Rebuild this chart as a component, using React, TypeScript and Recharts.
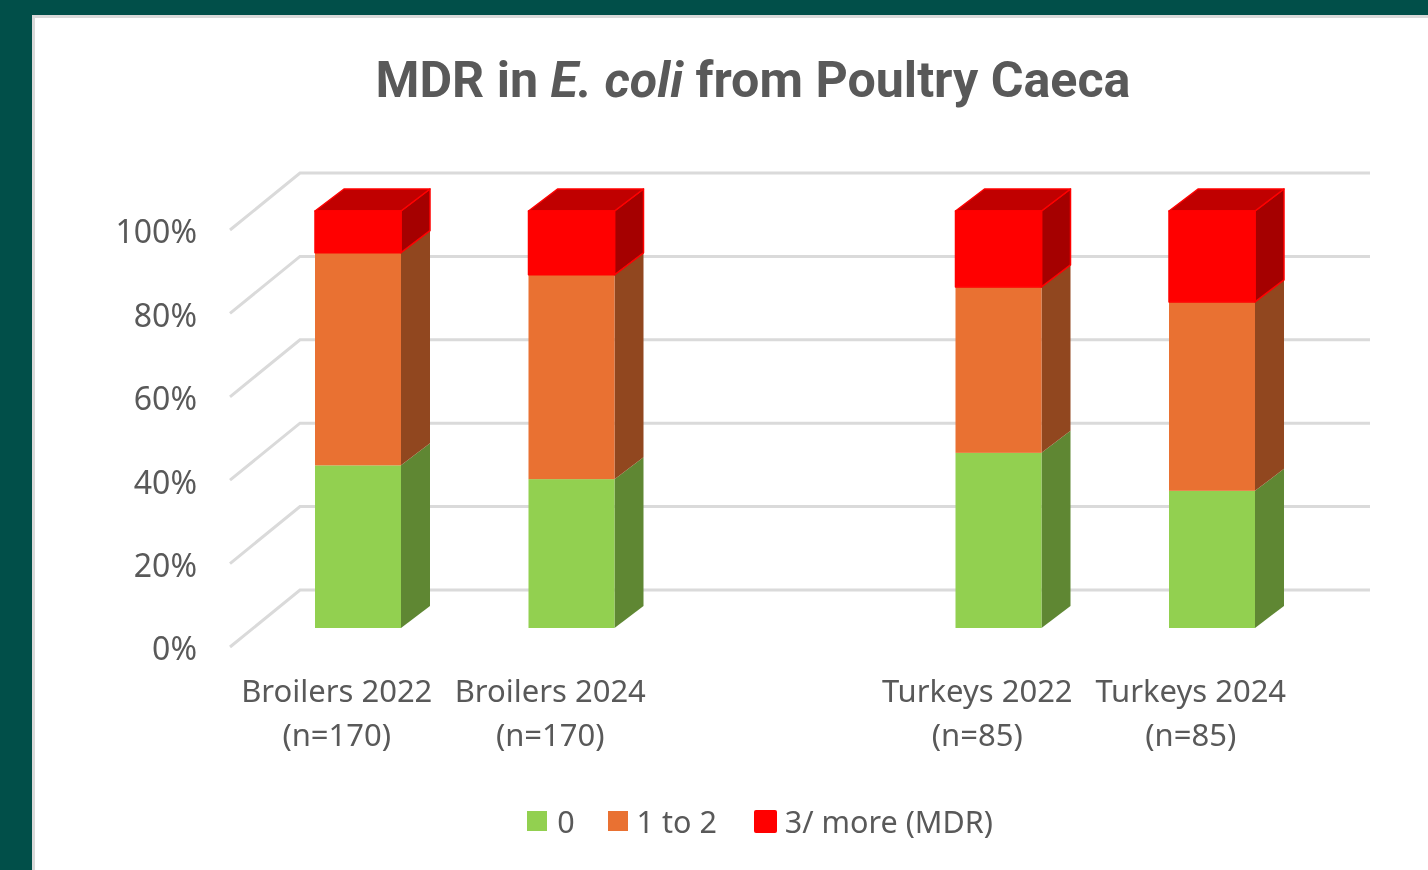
import { BarChart, Bar, XAxis, YAxis, CartesianGrid, Legend } from "recharts"

const categories = ["Broilers 2022", "Broilers 2024", "", "Turkeys 2022", "Turkeys 2024"]
const sampleSizes = ["(n=170)", "(n=170)", "", "(n=85)", "(n=85)"]
const noneValues = [39, 35.7, null, 42, 32.9]
const oneToTwoValues = [51, 49, null, 39.8, 45.3]
const mdrValues = [10, 15.3, null, 18.2, 21.8]
const yTicks = [0, 20, 40, 60, 80, 100]

const data = categories.map((name, i) => ({
  name,
  n: sampleSizes[i],
  none: noneValues[i],
  oneToTwo: oneToTwoValues[i],
  mdr: mdrValues[i],
}))

const FONT = "'Noto Sans', sans-serif"
const TEXT = "#595959"
const GRID = "#DADADA"

// fake 3D: wall depth and where the bars sit inside it
const WALL_DX = 70
const WALL_DY = -57
const BAR_SHIFT_X = 21
const BAR_SHIFT_Y = -19
const BAR_DX = 29
const BAR_DY = -22

const gridLine = (props: any) => {
  const { x1, y1, x2, key } = props
  const backY = y1 + WALL_DY
  return (
    <polyline
      key={key}
      points={`${x1},${y1} ${x1 + WALL_DX},${backY} ${x2 + WALL_DX + 2.5},${backY}`}
      fill="none"
      stroke={GRID}
      strokeWidth={3}
    />
  )
}

const box3d = (side: string, top?: string, outline?: string) => (props: any) => {
  const { x, y, width, height, fill } = props
  if (!height) return <g />
  const l = x + BAR_SHIFT_X
  const r = l + width
  const t = y + BAR_SHIFT_Y
  const b = t + height
  const edge = outline ? { stroke: outline, strokeWidth: 1.5, strokeLinejoin: "round" as const } : {}
  return (
    <g>
      <polygon points={`${r},${t} ${r + BAR_DX},${t + BAR_DY} ${r + BAR_DX},${b + BAR_DY} ${r},${b}`} fill={side} {...edge} />
      {top && (
        <polygon points={`${l},${t} ${l + BAR_DX},${t + BAR_DY} ${r + BAR_DX},${t + BAR_DY} ${r},${t}`} fill={top} {...edge} />
      )}
      <rect x={l} y={t} width={width} height={height} fill={fill} {...edge} />
    </g>
  )
}

const CategoryTick = (props: any) => {
  const { x, y, index } = props
  return (
    <text textAnchor="middle" fontFamily={FONT} fontSize={31} fill={TEXT}>
      <tspan x={x} y={y + 47}>{categories[index]}</tspan>
      <tspan x={x} y={y + 91}>{sampleSizes[index]}</tspan>
    </text>
  )
}

const legendGaps = [0, 33, 37]
const legendSwatches = [20, 20, 23]
const legendTextGaps = [10, 9, 8]

const legendContent = (props: any) => (
  <div style={{ display: "flex", alignItems: "center", justifyContent: "center", fontFamily: FONT, fontSize: 30.5, color: TEXT, height: 40 }}>
    {props.payload.map((item: any, i: number) => (
      <div key={item.value} style={{ display: "flex", alignItems: "center", marginLeft: legendGaps[i] }}>
        <span style={{ width: legendSwatches[i], height: legendSwatches[i], background: item.color, marginRight: legendTextGaps[i], borderRadius: i === 2 ? 2 : 0 }} />
        <span>{item.value}</span>
      </div>
    ))}
  </div>
)

export default function App() {
  return (
    <div style={{ position: "fixed", inset: 0, width: 1428, height: 870, background: "#014F49", overflow: "hidden" }}>
      <div style={{ position: "absolute", left: 32, top: 15, width: 1500, height: 900, background: "#fff", border: "3px solid #D9D9D9" }} />
      <div
        style={{
          position: "absolute",
          left: 33,
          width: 1440,
          top: 48,
          textAlign: "center",
          fontFamily: "Roboto, sans-serif",
          fontSize: 50.2,
          fontWeight: 700,
          lineHeight: "64px",
          color: TEXT,
          whiteSpace: "nowrap",
          filter: "blur(0.5px)",
        }}
      >
        MDR in <i>E. coli</i> from Poultry Caeca
      </div>
      <div style={{ position: "absolute", left: 0, top: 0, filter: "blur(0.5px)" }}>
        <BarChart
          width={1428}
          height={870}
          data={data}
          barSize={86}
          margin={{ top: 230, right: 130.5, bottom: 83, left: 130 }}
        >
          <CartesianGrid vertical={false} horizontal={gridLine} />
          <XAxis dataKey="name" axisLine={false} tickLine={false} interval={0} height={100} tick={<CategoryTick />} />
          <YAxis
            width={100}
            domain={[0, 100]}
            ticks={yTicks}
            axisLine={false}
            tickLine={false}
            tickMargin={27}
            tickFormatter={(v: number) => `${v}%`}
            tick={{ fontFamily: FONT, fontSize: 32, fill: TEXT, dy: 2 }}
          />
          <Legend
            height={40}
            content={legendContent}
            wrapperStyle={{ left: 0, width: 1520, top: 801 }}
          />
          <Bar dataKey="none" name="0" stackId="a" fill="#92D050" isAnimationActive={false} shape={box3d("#5F8733")} />
          <Bar dataKey="oneToTwo" name="1 to 2" stackId="a" fill="#E97132" isAnimationActive={false} shape={box3d("#91471F")} />
          <Bar dataKey="mdr" name="3/ more (MDR)" stackId="a" fill="#FF0000" isAnimationActive={false} shape={box3d("#A50000", "#C00000", "#FF0000")} />
        </BarChart>
      </div>
    </div>
  )
}
